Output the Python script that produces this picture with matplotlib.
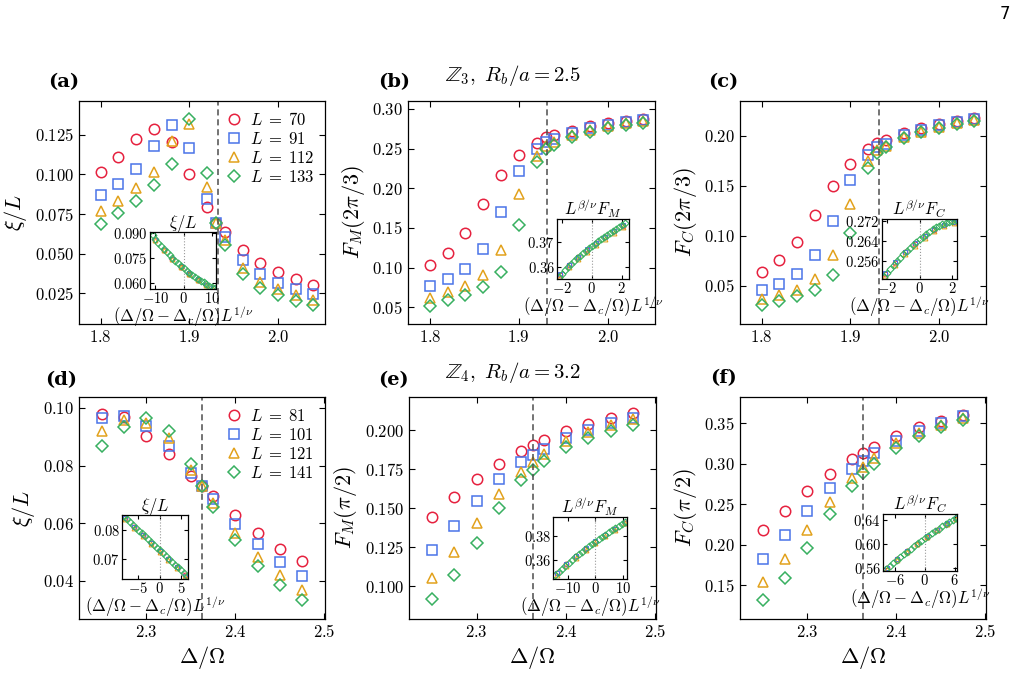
import matplotlib
matplotlib.use('Agg')
import matplotlib.pyplot as plt
from matplotlib.ticker import FuncFormatter

plt.rcParams['mathtext.fontset'] = 'cm'
plt.rcParams['font.family'] = ['DejaVu Serif']

# --- main panel data (top row: Z3, Rb/a = 2.5) ---
x_top = [1.80, 1.82, 1.84, 1.86, 1.88, 1.90, 1.92, 1.93, 1.94, 1.96, 1.98, 2.00, 2.02, 2.04]
L_top = [70, 91, 112, 133]

xi_a_r = [0.1015, 0.1112, 0.1223, 0.1286, 0.1204, 0.1000, 0.0792, 0.0690, 0.0636, 0.0520, 0.0438, 0.0383, 0.0337, 0.0303]
xi_a_b = [0.0869, 0.0937, 0.1032, 0.1179, 0.1312, 0.1166, 0.0846, 0.0690, 0.0604, 0.0461, 0.0373, 0.0316, 0.0274, 0.0244]
xi_a_o = [0.0768, 0.0832, 0.0912, 0.1017, 0.1211, 0.1320, 0.0918, 0.0690, 0.0587, 0.0406, 0.0322, 0.0274, 0.0236, 0.0206]
xi_a_g = [0.0686, 0.0754, 0.0832, 0.0931, 0.1067, 0.1354, 0.1011, 0.0695, 0.0554, 0.0368, 0.0282, 0.0236, 0.0200, 0.0175]

fm_b_r = [0.1029, 0.1188, 0.1436, 0.1800, 0.2166, 0.2421, 0.2568, 0.2644, 0.2669, 0.2728, 0.2786, 0.2824, 0.2849, 0.2879]
fm_b_b = [0.0768, 0.0852, 0.0987, 0.1238, 0.1704, 0.2224, 0.2493, 0.2589, 0.2627, 0.2694, 0.2757, 0.2799, 0.2832, 0.2858]
fm_b_o = [0.0613, 0.0689, 0.0764, 0.0911, 0.1217, 0.1922, 0.2413, 0.2535, 0.2589, 0.2673, 0.2736, 0.2786, 0.2820, 0.2845]
fm_b_g = [0.0521, 0.0596, 0.0659, 0.0756, 0.0945, 0.1532, 0.2333, 0.2493, 0.2551, 0.2652, 0.2711, 0.2757, 0.2795, 0.2820]

fc_c_r = [0.0637, 0.0753, 0.0943, 0.1207, 0.1497, 0.1720, 0.1867, 0.1927, 0.1960, 0.2033, 0.2077, 0.2117, 0.2150, 0.2180]
fc_c_b = [0.0457, 0.0520, 0.0620, 0.0803, 0.1147, 0.1557, 0.1810, 0.1887, 0.1920, 0.2013, 0.2060, 0.2107, 0.2140, 0.2173]
fc_c_o = [0.0367, 0.0407, 0.0460, 0.0570, 0.0807, 0.1323, 0.1753, 0.1860, 0.1900, 0.1993, 0.2043, 0.2093, 0.2127, 0.2160]
fc_c_g = [0.0303, 0.0343, 0.0393, 0.0460, 0.0603, 0.1027, 0.1677, 0.1833, 0.1887, 0.1977, 0.2037, 0.2077, 0.2117, 0.2150]

# --- main panel data (bottom row: Z4, Rb/a = 3.2) ---
x_bot = [2.25, 2.275, 2.30, 2.325, 2.35, 2.3625, 2.375, 2.40, 2.425, 2.45, 2.475]
L_bot = [81, 101, 121, 141]

xi_d_r = [0.0980, 0.0970, 0.0904, 0.0839, 0.0763, 0.0728, 0.0695, 0.0627, 0.0566, 0.0511, 0.0467]
xi_d_b = [0.0966, 0.0971, 0.0938, 0.0869, 0.0775, 0.0728, 0.0683, 0.0596, 0.0527, 0.0465, 0.0415]
xi_d_o = [0.0920, 0.0957, 0.0948, 0.0897, 0.0784, 0.0728, 0.0671, 0.0567, 0.0481, 0.0420, 0.0368]
xi_d_g = [0.0867, 0.0934, 0.0965, 0.0919, 0.0805, 0.0728, 0.0657, 0.0540, 0.0451, 0.0384, 0.0334]

fm_e_r = [0.1443, 0.1570, 0.1687, 0.1785, 0.1868, 0.1906, 0.1936, 0.1994, 0.2038, 0.2077, 0.2109]
fm_e_b = [0.1230, 0.1389, 0.1545, 0.1687, 0.1798, 0.1840, 0.1879, 0.1949, 0.2000, 0.2045, 0.2081]
fm_e_o = [0.1053, 0.1219, 0.1408, 0.1589, 0.1734, 0.1796, 0.1849, 0.1934, 0.1989, 0.2034, 0.2072]
fm_e_g = [0.0917, 0.1072, 0.1279, 0.1500, 0.1679, 0.1747, 0.1806, 0.1892, 0.1953, 0.1996, 0.2036]

fc_f_r = [0.2181, 0.2422, 0.2660, 0.2872, 0.3052, 0.3134, 0.3212, 0.3338, 0.3449, 0.3531, 0.3604]
fc_f_b = [0.1829, 0.2116, 0.2414, 0.2700, 0.2934, 0.3032, 0.3126, 0.3281, 0.3404, 0.3506, 0.3584]
fc_f_o = [0.1543, 0.1829, 0.2181, 0.2529, 0.2827, 0.2958, 0.3073, 0.3253, 0.3375, 0.3478, 0.3563]
fc_f_g = [0.1314, 0.1592, 0.1960, 0.2377, 0.2729, 0.2880, 0.2995, 0.3191, 0.3338, 0.3449, 0.3539]

dc_top = 1.932
dc_bot = 2.3625

# --- inset data (scaling collapse) ---
ins_a_x = [-11, -10, -9, -8, -7, -6, -5, -4, -3, -2, -1, 0, 1, 2, 3, 4, 5, 6, 7, 8, 9, 10, 11]
ins_a_g = [0.0887, 0.0865, 0.0844, 0.0824, 0.0805, 0.0787, 0.0769, 0.0752, 0.0735, 0.0719, 0.0703, 0.0688,
           0.0674, 0.0661, 0.0648, 0.0636, 0.0625, 0.0614, 0.0604, 0.0594, 0.0585, 0.0576, 0.0568]
ins_a_xo = [-10, -7, -4, -1, 2, 5, 8, 10.5]
ins_a_r = [0.0861, 0.0800, 0.0747, 0.0699, 0.0657, 0.0621, 0.0590, 0.0568]
ins_a_b = [0.0862, 0.0801, 0.0748, 0.0700, 0.0658, 0.0622, 0.0591, 0.0569]
ins_a_o = [0.0859, 0.0798, 0.0745, 0.0697, 0.0655, 0.0619, 0.0588, 0.0566]

ins_b_x = [-2.2, -2.0, -1.8, -1.6, -1.4, -1.2, -1.0, -0.8, -0.6, -0.4, -0.2, 0.0,
           0.2, 0.4, 0.6, 0.8, 1.0, 1.2, 1.4, 1.6, 1.8, 2.0, 2.2]
ins_b_g = [0.3560, 0.3574, 0.3587, 0.3600, 0.3612, 0.3624, 0.3635, 0.3646, 0.3656, 0.3666, 0.3676, 0.3685,
           0.3694, 0.3703, 0.3712, 0.3720, 0.3729, 0.3737, 0.3745, 0.3753, 0.3761, 0.3769, 0.3777]
ins_b_xo = [-2.1, -1.5, -0.9, -0.3, 0.3, 0.9, 1.5, 2.1]
ins_b_r = [0.3569, 0.3607, 0.3640, 0.3669, 0.3695, 0.3719, 0.3743, 0.3766]
ins_b_b = [0.3571, 0.3609, 0.3642, 0.3671, 0.3697, 0.3721, 0.3745, 0.3768]
ins_b_o = [0.3562, 0.3600, 0.3633, 0.3662, 0.3689, 0.3714, 0.3738, 0.3762]

ins_c_x = ins_b_x
ins_c_g = [0.2500, 0.2516, 0.2531, 0.2546, 0.2560, 0.2574, 0.2587, 0.2600, 0.2612, 0.2624, 0.2636, 0.2647,
           0.2657, 0.2667, 0.2676, 0.2685, 0.2693, 0.2700, 0.2706, 0.2710, 0.2714, 0.2718, 0.2722]
ins_c_xo = ins_b_xo
ins_c_r = [0.2511, 0.2555, 0.2595, 0.2629, 0.2658, 0.2683, 0.2702, 0.2714]
ins_c_b = [0.2513, 0.2557, 0.2597, 0.2631, 0.2660, 0.2685, 0.2704, 0.2716]
ins_c_o = [0.2503, 0.2547, 0.2587, 0.2622, 0.2652, 0.2678, 0.2698, 0.2711]

ins_d_x = [-8.4, -7.7, -7.0, -6.3, -5.6, -4.9, -4.2, -3.5, -2.8, -2.1, -1.4, -0.7, 0.0,
           0.7, 1.4, 2.1, 2.8, 3.5, 4.2, 4.9, 5.6, 6.3]
ins_d_g = [0.0848, 0.0838, 0.0828, 0.0818, 0.0808, 0.0798, 0.0788, 0.0778, 0.0769, 0.0759, 0.0749, 0.0739, 0.0729,
           0.0719, 0.0709, 0.0699, 0.0689, 0.0680, 0.0670, 0.0660, 0.0650, 0.0640]
ins_d_xo = [-8, -6, -4, -2, 0, 2, 4, 6]
ins_d_r = [0.0841, 0.0811, 0.0783, 0.0755, 0.0727, 0.0699, 0.0671, 0.0643]
ins_d_b = [0.0840, 0.0810, 0.0782, 0.0754, 0.0726, 0.0698, 0.0670, 0.0642]
ins_d_o = [0.0838, 0.0808, 0.0780, 0.0752, 0.0724, 0.0696, 0.0668, 0.0640]

ins_e_x = [-14.4, -13.2, -12.0, -10.8, -9.6, -8.4, -7.2, -6.0, -4.8, -3.6, -2.4, -1.2, 0.0,
           1.2, 2.4, 3.6, 4.8, 6.0, 7.2, 8.4, 9.6, 10.8]
ins_e_g = [0.3476, 0.3502, 0.3528, 0.3553, 0.3578, 0.3602, 0.3626, 0.3649, 0.3672, 0.3694, 0.3716, 0.3737, 0.3757,
           0.3777, 0.3796, 0.3815, 0.3834, 0.3852, 0.3870, 0.3888, 0.3905, 0.3922]
ins_e_xo = [-14, -10.5, -7, -3.5, 0, 3.5, 7, 10.5]
ins_e_r = [0.3490, 0.3564, 0.3634, 0.3698, 0.3757, 0.3811, 0.3863, 0.3913]
ins_e_b = [0.3492, 0.3566, 0.3636, 0.3700, 0.3759, 0.3813, 0.3865, 0.3915]
ins_e_o = [0.3478, 0.3552, 0.3622, 0.3687, 0.3747, 0.3803, 0.3857, 0.3909]

ins_f_x = [-7.7, -7.0, -6.3, -5.6, -4.9, -4.2, -3.5, -2.8, -2.1, -1.4, -0.7, 0.0,
           0.7, 1.4, 2.1, 2.8, 3.5, 4.2, 4.9, 5.6, 6.3]
ins_f_g = [0.5570, 0.5623, 0.5675, 0.5726, 0.5776, 0.5825, 0.5873, 0.5920, 0.5966, 0.6011, 0.6055, 0.6098,
           0.6140, 0.6181, 0.6221, 0.6260, 0.6298, 0.6335, 0.6371, 0.6406, 0.6440]
ins_f_xo = [-7.5, -5.5, -3.5, -1.5, 0.5, 2.5, 4.5, 6.3]
ins_f_r = [0.5592, 0.5739, 0.5877, 0.6006, 0.6127, 0.6240, 0.6346, 0.6434]
ins_f_b = [0.5595, 0.5742, 0.5880, 0.6009, 0.6130, 0.6243, 0.6349, 0.6437]
ins_f_o = [0.5575, 0.5722, 0.5862, 0.5994, 0.6118, 0.6234, 0.6343, 0.6433]

colors = ['#e6213f', '#4a74e8', '#e2a21c', '#38b060']
markers = ['o', 's', '^', 'D']
msizes = [7.5, 7, 7.5, 6.5]


def fmt(n):
    def f(v, p):
        s = f'{v:.{n}f}'
        if s.startswith('-') and float(s) == 0:
            s = s[1:]
        return '$' + s + '$'
    return FuncFormatter(f)


def style(ax, size, length):
    ax.tick_params(direction='in', top=True, right=True, labelsize=size,
                   length=length, width=0.8)
    for sp in ax.spines.values():
        sp.set_linewidth(0.9)


def main_panel(rect, x, ys, labels, xlim, ylim, yticks, ydec, xticks, ylabel, dc, legend=False, xlabel=False):
    ax = fig.add_axes(rect)
    for y, c, m, ms, lab in zip(ys, colors, markers, msizes, labels):
        ax.plot(x, y, ls='none', marker=m, ms=ms, mfc='none', mec=c, mew=1.1,
                label=rf'$L\;=\;{lab}$')
    ax.axvline(dc, color='#4d4d4d', ls=(0, (4, 2.5)), lw=1.1)
    ax.set_xlim(xlim)
    ax.set_ylim(ylim)
    ax.set_yticks(yticks)
    ax.set_xticks(xticks)
    ax.yaxis.set_major_formatter(fmt(ydec))
    ax.xaxis.set_major_formatter(fmt(1))
    style(ax, 12, 4.5)
    ax.set_ylabel(ylabel, fontsize=16, labelpad=4)
    if xlabel:
        ax.set_xlabel(r'$\Delta/\Omega$', fontsize=16, labelpad=2)
    if legend:
        ax.legend(loc='upper right', frameon=False, fontsize=12, handletextpad=0.55,
                  labelspacing=0.12, borderaxespad=0.25, handlelength=0.8,
                  bbox_to_anchor=(1.0, 1.0))
    return ax


def inset(rect, xg, yg, xo, yr, yb, yo, xlim, ylim, xticks, yticks, ydec, title):
    ax = fig.add_axes(rect)
    ax.axvline(0, color='#999999', ls=':', lw=0.8)
    for y, c, m in zip([yr, yb, yo], colors[:3], markers[:3]):
        ax.plot(xo, y, ls='none', marker=m, ms=3.5, mfc='none', mec=c, mew=0.7)
    ax.plot(xg, yg, ls='none', marker='D', ms=3.5, mfc='none', mec=colors[3], mew=0.8)
    ax.set_xlim(xlim)
    ax.set_ylim(ylim)
    ax.set_xticks(xticks)
    ax.set_yticks(yticks)
    ax.xaxis.set_major_formatter(fmt(0))
    ax.yaxis.set_major_formatter(fmt(ydec))
    style(ax, 10.5, 3)
    ax.tick_params(pad=1.5)
    ax.set_title(title, fontsize=12, pad=3)
    ax.set_xlabel(r'$(\Delta/\Omega - \Delta_c/\Omega)L^{1/\nu}$', fontsize=12, labelpad=-1)
    return ax


fig = plt.figure(figsize=(10.17, 7.0), dpi=100)

W, H = 1017, 700


def r(x0, y0, x1, y1):
    return [x0 / W, 1 - y1 / H, (x1 - x0) / W, (y1 - y0) / H]


xlim_top = (1.7755, 2.053)
xlim_bot = (2.2240, 2.501)

main_panel(r(79, 101, 325, 324), x_top, [xi_a_r, xi_a_b, xi_a_o, xi_a_g], L_top, xlim_top, (0.0054, 0.1465),
           [0.025, 0.050, 0.075, 0.100, 0.125], 3, [1.8, 1.9, 2.0], r'$\xi/L$', dc_top, legend=True)
main_panel(r(408, 101, 655, 324), x_top, [fm_b_r, fm_b_b, fm_b_o, fm_b_g], L_top, xlim_top, (0.029, 0.310),
           [0.05, 0.10, 0.15, 0.20, 0.25, 0.30], 2, [1.8, 1.9, 2.0], r'$F_M(2\pi/3)$', dc_top)
main_panel(r(740, 101, 986, 324), x_top, [fc_c_r, fc_c_b, fc_c_o, fc_c_g], L_top, xlim_top, (0.0117, 0.235),
           [0.05, 0.10, 0.15, 0.20], 2, [1.8, 1.9, 2.0], r'$F_C(2\pi/3)$', dc_top)

main_panel(r(79, 397, 325, 619), x_bot, [xi_d_r, xi_d_b, xi_d_o, xi_d_g], L_bot, xlim_bot, (0.0267, 0.1038),
           [0.04, 0.06, 0.08, 0.10], 2, [2.3, 2.4, 2.5], r'$\xi/L$', dc_bot, legend=True, xlabel=True)
main_panel(r(409, 397, 656, 619), x_bot, [fm_e_r, fm_e_b, fm_e_o, fm_e_g], L_bot, xlim_bot, (0.0791, 0.2213),
           [0.100, 0.125, 0.150, 0.175, 0.200], 3, [2.3, 2.4, 2.5], r'$F_M(\pi/2)$', dc_bot, xlabel=True)
main_panel(r(740, 397, 986, 619), x_bot, [fc_f_r, fc_f_b, fc_f_o, fc_f_g], L_bot, xlim_bot, (0.1083, 0.3823),
           [0.15, 0.20, 0.25, 0.30, 0.35], 2, [2.3, 2.4, 2.5], r'$F_C(\pi/2)$', dc_bot, xlabel=True)

inset(r(150, 232, 216, 289), ins_a_x, ins_a_g, ins_a_xo, ins_a_r, ins_a_b, ins_a_o,
      (-11.9, 11.4), (0.0564, 0.0908), [-10, 0, 10], [0.060, 0.075, 0.090], 3, r'$\xi/L$')
inset(r(557, 219, 629, 279), ins_b_x, ins_b_g, ins_b_xo, ins_b_r, ins_b_b, ins_b_o,
      (-2.3, 2.5), (0.3552, 0.3793), [-2, 0, 2], [0.36, 0.37], 2, r'$L^{\beta/\nu}F_M$')
inset(r(882, 219, 957, 279), ins_c_x, ins_c_g, ins_c_xo, ins_c_r, ins_c_b, ins_c_o,
      (-2.31, 2.29), (0.2491, 0.2726), [-2, 0, 2], [0.256, 0.264, 0.272], 3, r'$L^{\beta/\nu}F_C$')
inset(r(122, 515, 188, 579), ins_d_x, ins_d_g, ins_d_xo, ins_d_r, ins_d_b, ins_d_o,
      (-8.8, 6.6), (0.0630, 0.0852), [-5, 0, 5], [0.07, 0.08], 2, r'$\xi/L$')
inset(r(553, 517, 627, 579), ins_e_x, ins_e_g, ins_e_xo, ins_e_r, ins_e_b, ins_e_o,
      (-15.3, 11.4), (0.3442, 0.3963), [-10, 0, 10], [0.36, 0.38], 2, r'$L^{\beta/\nu}F_M$')
inset(r(883, 514, 957, 571), ins_f_x, ins_f_g, ins_f_xo, ins_f_r, ins_f_b, ins_f_o,
      (-8.3, 6.5), (0.5543, 0.6510), [-6, 0, 6], [0.56, 0.60, 0.64], 2, r'$L^{\beta/\nu}F_C$')

# panel tags and row titles
for tag, px, py in [('a', 64, 82), ('b', 394, 82), ('c', 723, 82),
                    ('d', 61, 380), ('e', 393, 380), ('f', 723, 378)]:
    fig.text(px / W, 1 - py / H, f'({tag})', fontsize=14, fontweight='bold',
             ha='center', va='center', family='DejaVu Serif')

fig.text(513 / W, 1 - 75 / H, r'$\mathbb{Z}_3,\ R_b/a = 2.5$', fontsize=15, ha='center', va='center')
fig.text(513 / W, 1 - 373 / H, r'$\mathbb{Z}_4,\ R_b/a = 3.2$', fontsize=15, ha='center', va='center')
fig.text(1005 / W, 1 - 14 / H, '7', fontsize=12, ha='center', va='center', family='DejaVu Sans')

fig.savefig('out.png', dpi=100)
